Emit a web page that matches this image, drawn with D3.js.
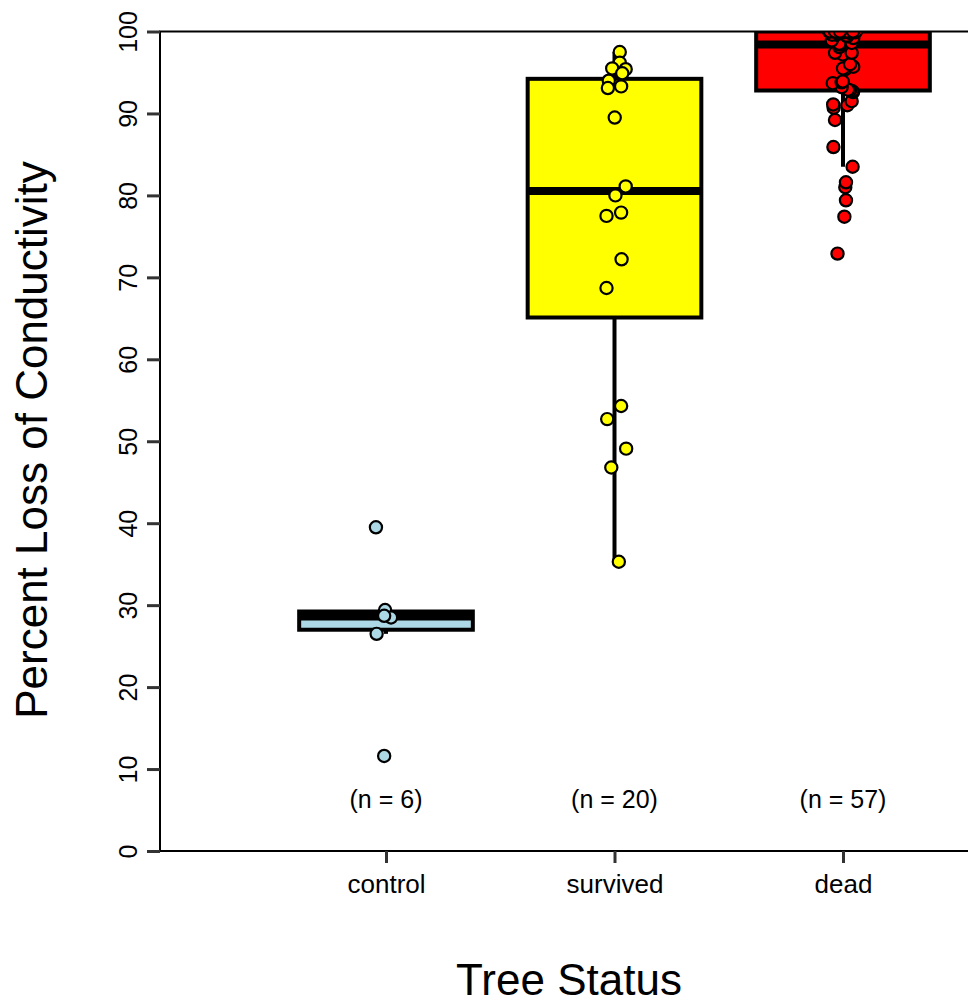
<!DOCTYPE html>
<html>
<head>
<meta charset="utf-8">
<script src="https://cdn.jsdelivr.net/npm/d3@7"></script>
<style>
  html, body { margin: 0; padding: 0; background: #fff; }
  svg { display: block; font-family: "Liberation Sans", Arial, sans-serif; }
</style>
</head>
<body>
<svg id="chart" width="968" height="1004"></svg>
<script>
// Groups and their colours
const categories = ["control", "survived", "dead"];
const groupColors = ["#ADD8E6", "#FFFF00", "#FF0000"];

// Percent loss of conductivity per tree, with a small horizontal jitter (in group units)
const controlValues = [39.5, 29.4, 28.5, 28.7, 26.5, 11.6];
const controlJitter = [-0.044, -0.004, 0.022, -0.008, -0.041, -0.008];

const survivedValues = [97.5, 96.2, 95.5, 95.4, 94.9, 94.0, 93.1, 93.3, 89.5, 81.1,
                        80.0, 77.5, 77.9, 72.2, 68.7, 54.3, 52.7, 49.1, 46.8, 35.3];
const survivedJitter = [0.023, 0.023, -0.010, 0.049, 0.034, -0.025, -0.029, 0.029, 0.001, 0.049,
                        0.004, -0.035, 0.029, 0.031, -0.035, 0.029, -0.032, 0.051, -0.014, 0.019];

const deadValues = [72.9, 77.4, 79.4, 81.0, 81.6, 83.5, 85.9, 89.2, 90.7, 91.0,
                    91.1, 91.5, 92.6, 92.7, 92.8, 92.9, 93.2, 93.7, 93.8, 93.9,
                    95.4, 95.5, 95.7, 96.0, 97.2, 97.4, 97.4, 98.1, 98.4, 98.5,
                    98.6, 98.9, 99.2, 99.4, 99.5, 99.6, 99.6, 99.8, 99.8, 99.9,
                    99.9, 100, 100, 100, 100, 100, 100, 100, 100, 100,
                    100, 100, 100, 100, 100, 100, 100];
const deadJitter = [-0.024, 0.006, 0.013, 0.010, 0.013, 0.042, -0.042, -0.035, -0.041, 0.019,
                    -0.043, 0.038, 0.044, 0.041, 0.031, 0.022, -0.006, -0.045, -0.006, -0.001,
                    0.010, 0.000, 0.045, 0.031, -0.001, -0.035, 0.038, -0.016, -0.013, -0.016,
                    0.038, -0.049, 0.045, 0.018, 0.016, -0.028, -0.048, 0.031, -0.022, 0.004,
                    0.053, -0.061, -0.031, -0.009, 0.022, 0.040, -0.044, 0.009, -0.018, 0.031,
                    0.057, -0.057, 0.000, 0.018, -0.035, 0.044, -0.013];

const yTicks = [0, 10, 20, 30, 40, 50, 60, 70, 80, 90, 100];

const groups = [
  { name: categories[0], values: controlValues, jitter: controlJitter, color: groupColors[0] },
  { name: categories[1], values: survivedValues, jitter: survivedJitter, color: groupColors[1] },
  { name: categories[2], values: deadValues, jitter: deadJitter, color: groupColors[2] }
];

// Plot region
const plot = { left: 160, right: 978, top: 31.5, bottom: 851 };
const svg = d3.select("#chart");

const x = d3.scaleLinear().domain([1, 3]).range([386, 843]);
const y = d3.scaleLinear().domain([0, 100]).range([plot.bottom, plot.top]);
const boxWidth = 0.76;

// Box statistics (type-7 quantiles, whiskers to the last point within 1.5 IQR)
groups.forEach(g => {
  const s = g.values.slice().sort(d3.ascending);
  g.q1 = d3.quantile(s, 0.25);
  g.med = d3.quantile(s, 0.5);
  g.q3 = d3.quantile(s, 0.75);
  const iqr = g.q3 - g.q1;
  g.lo = d3.min(s.filter(v => v >= g.q1 - 1.5 * iqr));
  g.hi = d3.max(s.filter(v => v <= g.q3 + 1.5 * iqr));
});

svg.append("clipPath").attr("id", "plot-clip")
  .append("rect")
  .attr("x", plot.left).attr("y", plot.top)
  .attr("width", plot.right - plot.left).attr("height", plot.bottom - plot.top);

const inner = svg.append("g").attr("clip-path", "url(#plot-clip)");

// Boxes and whiskers
const box = inner.selectAll("g.box").data(groups).join("g").attr("class", "box");
box.append("line")
  .attr("x1", (d, i) => x(i + 1)).attr("x2", (d, i) => x(i + 1))
  .attr("y1", d => y(d.lo)).attr("y2", d => y(d.q1))
  .attr("stroke", "#000").attr("stroke-width", 4);
box.append("line")
  .attr("x1", (d, i) => x(i + 1)).attr("x2", (d, i) => x(i + 1))
  .attr("y1", d => y(d.q3)).attr("y2", d => y(d.hi))
  .attr("stroke", "#000").attr("stroke-width", 4);
box.append("rect")
  .attr("x", (d, i) => x(i + 1 - boxWidth / 2))
  .attr("width", (d, i) => x(i + 1 + boxWidth / 2) - x(i + 1 - boxWidth / 2))
  .attr("y", d => y(d.q3))
  .attr("height", d => y(d.q1) - y(d.q3))
  .attr("fill", d => d.color)
  .attr("stroke", "#000").attr("stroke-width", 4);
box.append("line")
  .attr("x1", (d, i) => x(i + 1 - boxWidth / 2)).attr("x2", (d, i) => x(i + 1 + boxWidth / 2))
  .attr("y1", d => y(d.med)).attr("y2", d => y(d.med))
  .attr("stroke", "#000").attr("stroke-width", 8);

// Jittered points
groups.forEach((g, i) => {
  inner.append("g").selectAll("circle")
    .data(g.values.map((v, k) => ({ v, j: g.jitter[k] })))
    .join("circle")
    .attr("cx", d => x(i + 1 + d.j))
    .attr("cy", d => y(d.v))
    .attr("r", 6.1)
    .attr("fill", g.color)
    .attr("stroke", "#000")
    .attr("stroke-width", 2.2);
});

// Sample sizes
svg.append("g").selectAll("text")
  .data(groups)
  .join("text")
  .attr("x", (d, i) => x(i + 1))
  .attr("y", 808)
  .attr("text-anchor", "middle")
  .attr("font-size", 25)
  .attr("fill", "#000")
  .text(d => `(n = ${d.values.length})`);

// Frame (right side falls outside the canvas)
svg.append("path")
  .attr("d", `M${plot.right},${plot.top}H${plot.left}V${plot.bottom}H${plot.right}`)
  .attr("fill", "none").attr("stroke", "#000").attr("stroke-width", 2);

// Y axis
const yAxis = svg.append("g")
  .attr("transform", `translate(${plot.left},0)`)
  .call(d3.axisLeft(y).tickValues(yTicks).tickSize(13).tickFormat(d3.format("d")));
yAxis.select(".domain").remove();
yAxis.selectAll(".tick line").attr("stroke", "#333").attr("stroke-width", 3);
yAxis.selectAll(".tick text")
  .attr("x", 0).attr("dy", 0)
  .attr("transform", "translate(-23,0) rotate(-90)")
  .attr("text-anchor", "middle")
  .attr("font-size", 25)
  .attr("font-family", "Liberation Sans, Arial, sans-serif")
  .attr("fill", "#000");

// X axis
const xAxis = svg.append("g")
  .attr("transform", `translate(0,${plot.bottom})`)
  .call(d3.axisBottom(x).tickValues([1, 2, 3]).tickSize(12).tickFormat(d => categories[d - 1]));
xAxis.select(".domain").remove();
xAxis.selectAll(".tick line").attr("stroke", "#333").attr("stroke-width", 3);
xAxis.selectAll(".tick text")
  .attr("y", 42).attr("dy", 0)
  .attr("font-size", 26)
  .attr("font-family", "Liberation Sans, Arial, sans-serif")
  .attr("fill", "#000");

// Axis titles
svg.append("text")
  .attr("x", 569).attr("y", 995)
  .attr("text-anchor", "middle")
  .attr("font-size", 44)
  .text("Tree Status");
svg.append("text")
  .attr("transform", "translate(47,440) rotate(-90)")
  .attr("text-anchor", "middle")
  .attr("font-size", 44)
  .text("Percent Loss of Conductivity");
</script>
</body>
</html>
